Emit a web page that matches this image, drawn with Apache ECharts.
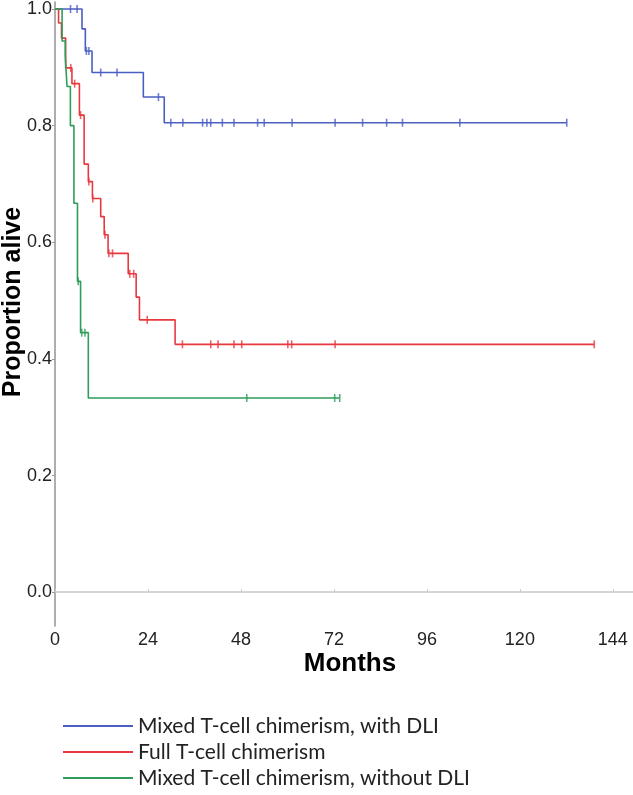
<!DOCTYPE html>
<html><head><meta charset="utf-8">
<script src="https://cdn.jsdelivr.net/npm/echarts@6/dist/echarts.min.js"></script>
<style>html,body{margin:0;padding:0;background:#fff}#c{width:633px;height:795px}</style>
</head><body><div id="c"></div>
<script>
// ---- Data ----
const seriesNames = ['Mixed T-cell chimerism, with DLI', 'Full T-cell chimerism', 'Mixed T-cell chimerism, without DLI'];
const seriesColors = ['#4a5fc2', '#e8383e', '#2e9d5a'];

// Blue: Mixed T-cell chimerism, with DLI
const blueTimes = [0, 6.97, 7.83, 9.56, 22.8, 28.2, 132.1];
const blueSurv  = [1.0, 0.966, 0.928, 0.891, 0.849, 0.805, 0.805];
const blueCensor = [4.0, 5.7, 8.1, 8.75, 11.8, 16.0, 26.7, 29.9, 33.0, 38.1, 39.2, 40.2, 43.2, 46.2, 52.3, 54.0, 61.2, 72.3, 79.4, 85.6, 89.7, 104.5, 132.1];

// Red: Full T-cell chimerism
const redTimes = [0, 0.92, 1.68, 2.75, 4.37, 6.3, 7.52, 8.6, 9.66, 11.8, 12.7, 13.7, 18.9, 20.95, 21.8, 31.0, 139.2];
const redSurv  = [1.0, 0.976, 0.95, 0.899, 0.872, 0.818, 0.734, 0.704, 0.675, 0.644, 0.613, 0.581, 0.546, 0.506, 0.467, 0.425, 0.425];
const redCensor = [4.07, 5.08, 6.6, 8.75, 9.76, 12.9, 13.9, 14.85, 19.3, 20.3, 23.8, 32.9, 40.2, 42.1, 46.2, 48.2, 60.1, 61.1, 72.3, 139.2];

// Green: Mixed T-cell chimerism, without DLI
const greenTimes = [0, 1.83, 2.64, 3.1, 3.97, 4.88, 5.8, 6.6, 8.6, 73.5];
const greenSurv  = [1.0, 0.945, 0.92, 0.867, 0.80, 0.667, 0.533, 0.445, 0.333, 0.333];
const greenCensor = [6.0, 6.9, 7.73, 49.5, 72.2, 73.5];

const xTicks = [0, 24, 48, 72, 96, 120, 144];
const yTicks = [0.0, 0.2, 0.4, 0.6, 0.8, 1.0];

// ---- Build ----
function pairs(t, s) { return t.map((v, i) => [v, s[i]]); }
function levelAt(t, s, x) { let k = 0; for (let i = 0; i < t.length; i++) if (t[i] <= x) k = i; return s[k]; }
function censorPts(t, s, c) { return c.map(x => [x, levelAt(t, s, x)]); }

const groups = [
  [blueTimes, blueSurv, blueCensor],
  [redTimes, redSurv, redCensor],
  [greenTimes, greenSurv, greenCensor]
];

const series = [];
groups.forEach((g, i) => {
  series.push({
    name: seriesNames[i], type: 'line', step: 'end', data: pairs(g[0], g[1]),
    showSymbol: false, symbol: 'none', color: seriesColors[i],
    lineStyle: { width: 1.6, color: seriesColors[i] }, z: 2 + i, animation: false
  });
  series.push({
    name: seriesNames[i] + ' censored', type: 'scatter', data: censorPts(g[0], g[1], g[2]),
    symbol: 'rect', symbolSize: [1.6, 8], itemStyle: { color: seriesColors[i] }, z: 2 + i,
    animation: false, silent: true
  });
});

const legendCenters = [726, 752, 778];
const legends = seriesNames.map((n, i) => ({
  data: [n], left: 63, top: legendCenters[i] - 12, padding: 0, icon: 'rect', itemWidth: 70, itemHeight: 2,
  selectedMode: false,
  textStyle: { fontFamily: 'Lato', fontSize: 21, lineHeight: 24, color: '#222' }
}));

const chart = echarts.init(document.getElementById('c'), null, { renderer: 'canvas' });
chart.setOption({
  backgroundColor: '#fff',
  animation: false,
  grid: { left: 55, right: 0, top: 0, bottom: 169, containLabel: false },
  legend: legends,
  xAxis: {
    type: 'value', min: 0, max: 149.2,
    axisLine: { show: true, lineStyle: { color: '#c8c8c8', width: 1.5 } },
    axisTick: { show: true, inside: true, length: 3, customValues: xTicks, lineStyle: { color: '#c8c8c8' } },
    axisLabel: { customValues: xTicks, fontFamily: 'Liberation Sans', fontSize: 18, color: '#222', margin: 5 },
    splitLine: { show: false }
  },
  yAxis: {
    type: 'value', min: -0.058, max: 1.012,
    axisLine: { show: true, lineStyle: { color: '#9a9a9a', width: 1.6 } },
    axisTick: { show: true, length: 3, customValues: yTicks, lineStyle: { color: '#9a9a9a' } },
    axisLabel: { customValues: yTicks, formatter: v => v.toFixed(1), fontFamily: 'Liberation Sans', fontSize: 18, color: '#222', margin: 3 },
    splitLine: { show: false }
  },
  graphic: [
    { type: 'text', x: 13, y: 302, rotation: Math.PI / 2,
      style: { text: 'Proportion alive', font: 'bold 25px "Liberation Sans"', fill: '#000', textAlign: 'center', textVerticalAlign: 'middle' } },
    { type: 'text', x: 350, y: 664,
      style: { text: 'Months', font: 'bold 26px "Liberation Sans"', fill: '#000', textAlign: 'center', textVerticalAlign: 'middle' } }
  ],
  series: series
});
</script>
</body></html>
